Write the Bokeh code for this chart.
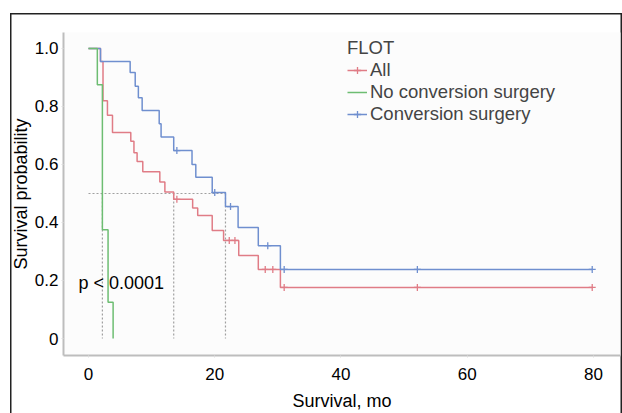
from bokeh.plotting import figure
from bokeh.models import Legend, LegendItem, FixedTicker
from bokeh.core.properties import value
from bokeh.embed import file_html
from bokeh.resources import INLINE

# ---- data ----
all_t = [0, 1.9, 2.3, 3.0, 3.8, 6.7, 7.2, 7.7, 8.6, 11.3, 12.1, 13.5, 16.5, 17.3, 19.6, 21.4, 23.8, 26.9, 30.4, 79.8]
all_s = [1.0, 0.955, 0.82, 0.77, 0.71, 0.68, 0.64, 0.61, 0.575, 0.54, 0.505, 0.48, 0.45, 0.424, 0.372, 0.338, 0.286, 0.238, 0.176, 0.176]

noconv_t = [0, 1.4, 2.2, 3.1, 3.9]
noconv_s = [1.0, 0.875, 0.375, 0.125, 0.0]

conv_t = [0, 1.9, 6.6, 7.4, 7.9, 8.5, 11.2, 11.5, 13.5, 16.4, 17.0, 19.6, 21.7, 23.7, 26.9, 30.4, 79.8]
conv_s = [1.0, 0.955, 0.917, 0.87, 0.83, 0.786, 0.74, 0.695, 0.648, 0.60, 0.556, 0.503, 0.455, 0.383, 0.32, 0.238, 0.238]

all_cens_t = [14.0, 22.3, 23.2, 28.0, 29.2, 31.0, 52.1, 79.8]
all_cens_s = [0.48, 0.338, 0.338, 0.238, 0.238, 0.176, 0.176, 0.176]
conv_cens_t = [14.0, 20.0, 22.5, 28.4, 31.0, 52.1, 79.8]
conv_cens_s = [0.648, 0.503, 0.455, 0.32, 0.238, 0.238, 0.238]

medians = [2.2, 13.5, 21.7]
median_level = 0.5

x_ticks = [0, 20, 40, 60, 80]
y_ticks = [0, 0.2, 0.4, 0.6, 0.8, 1.0]
y_tick_labels = ["0", "0.2", "0.4", "0.6", "0.8", "1.0"]

series_names = ["All", "No conversion surgery", "Conversion surgery"]
colors = ["#e07c86", "#6dbd72", "#6f8fcf"]

FONT = "Liberation Sans"

p = figure(width=622, height=413,
           x_range=(-3.96, 84.28), y_range=(-0.0586, 1.055),
           min_border_left=63, min_border_right=2, min_border_top=32, min_border_bottom=58,
           output_backend="svg", toolbar_location=None,
           styles={"box-shadow": "inset 10px 13px 0 0 #ffffff, inset 11.5px 14.5px 0 0 #222222, inset -1.5px 0 0 0 #222222"})

p.background_fill_color = "#fcfcfc"
p.border_fill_color = "white"
p.border_fill_alpha = 0
p.outline_line_color = None
p.xgrid.visible = False
p.ygrid.visible = False

for ax in (p.xaxis[0], p.yaxis[0]):
    ax.axis_line_color = "#bdbdbd"
    ax.axis_line_width = 2
    ax.major_tick_line_color = "#dddddd"
    ax.major_tick_out = 2
    ax.major_tick_in = 0
    ax.minor_tick_line_color = None
    ax.major_label_text_font = FONT
    ax.major_label_text_font_size = "17px"
    ax.major_label_text_color = "black"
    ax.axis_label_text_font = FONT
    ax.axis_label_text_font_size = "18px"
    ax.axis_label_text_font_style = "normal"
    ax.axis_label_text_color = "black"

p.xaxis.ticker = FixedTicker(ticks=x_ticks)
p.yaxis.ticker = FixedTicker(ticks=y_ticks)
p.yaxis.major_label_overrides = {t: l for t, l in zip(y_ticks, y_tick_labels)}
p.xaxis.axis_label = "Survival, mo"
p.yaxis.axis_label = "Survival probability"
p.xaxis.major_label_standoff = 10
p.xaxis.axis_label_standoff = 8
p.yaxis.major_label_standoff = 3
p.yaxis.axis_label_standoff = 1

# median reference lines
p.segment(x0=[0], y0=[median_level], x1=[max(medians)], y1=[median_level],
          line_color="#a0a0a0", line_width=1.2, line_dash="2 2")
p.segment(x0=medians, y0=[median_level] * len(medians), x1=medians, y1=[0] * len(medians),
          line_color="#a0a0a0", line_width=1.2, line_dash="2 2")

r_all = p.step(all_t, all_s, mode="after", line_color=colors[0], line_width=1.5)
r_conv = p.step(conv_t, conv_s, mode="after", line_color=colors[2], line_width=1.5)
r_no = p.step(noconv_t, noconv_s, mode="after", line_color=colors[1], line_width=1.5)

c_all = p.scatter(all_cens_t, all_cens_s, marker="cross", size=7, line_color=colors[0], line_width=1.3)
c_conv = p.scatter(conv_cens_t, conv_cens_s, marker="cross", size=7, line_color=colors[2], line_width=1.3)

p.text(x=[-1.6], y=[0.193], text=["p < 0.0001"], text_font=value(FONT), text_font_size="18px",
       text_baseline="middle", text_align="left", text_color="black")

legend = Legend(items=[
    LegendItem(label=series_names[0], renderers=[r_all, c_all]),
    LegendItem(label=series_names[1], renderers=[r_no]),
    LegendItem(label=series_names[2], renderers=[r_conv, c_conv]),
], location=(284, 230))
legend.title = "FLOT"
legend.title_text_font = FONT
legend.title_text_font_size = "18.5px"
legend.title_text_font_style = "normal"
legend.title_standoff = 0
legend.label_text_font = FONT
legend.label_text_font_size = "18.5px"
legend.glyph_width = 20
legend.glyph_height = 18
legend.label_height = 18
legend.label_standoff = 3
legend.spacing = 0
legend.padding = 0
legend.margin = 0
legend.border_line_color = None
legend.background_fill_alpha = 0
p.add_layout(legend, "center")

open("out.html", "w").write(file_html(p, INLINE))
